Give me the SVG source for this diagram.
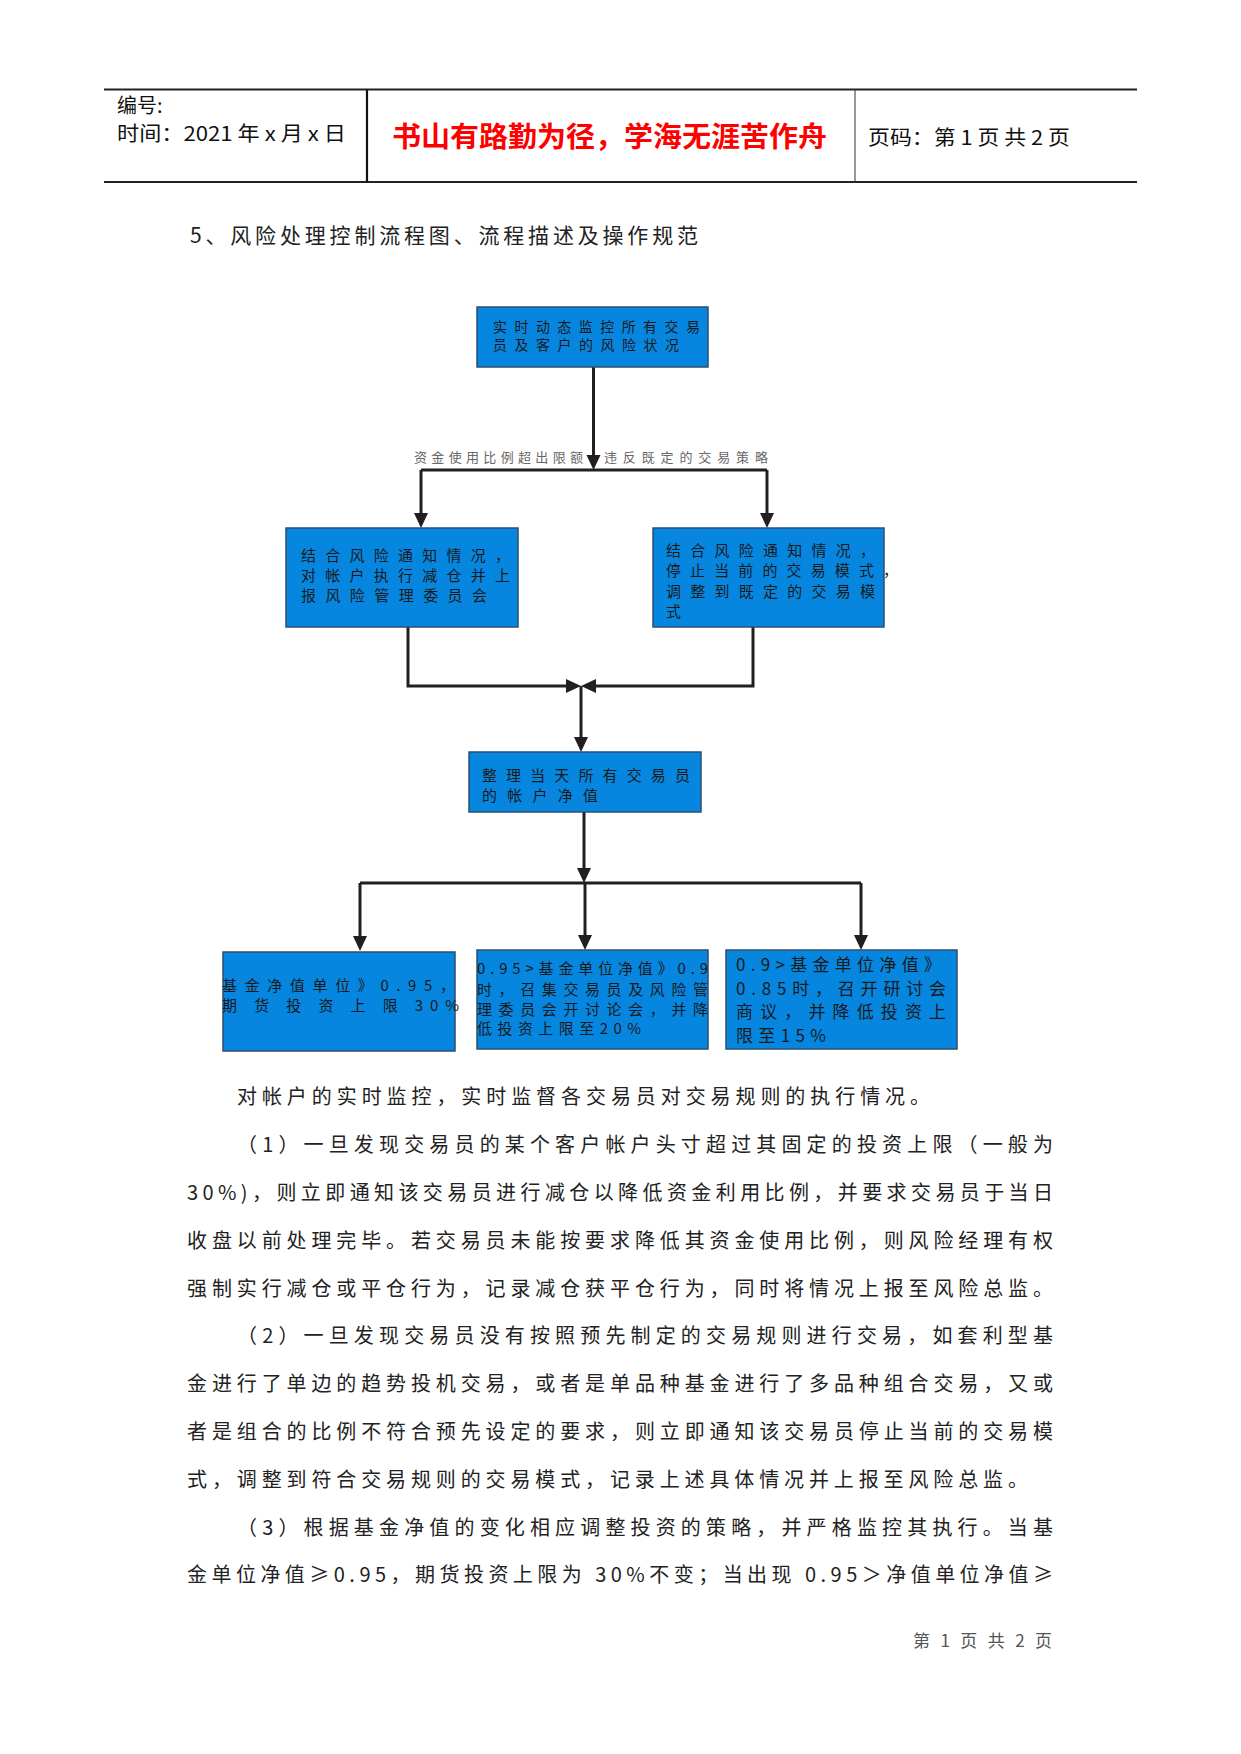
<svg xmlns="http://www.w3.org/2000/svg" width="1241" height="1754" viewBox="0 0 1241 1754">
<style>
text{font-family:"Noto Sans CJK SC","Liberation Sans",sans-serif;}
.hd{font-size:20px;fill:#111;}
.motto{font-size:28px;font-weight:bold;fill:#ff0000;}
.title{font-size:21px;fill:#222;}
.box{fill:#0786df;stroke:#2b4f70;stroke-width:1.5;}
.bt{font-size:15px;fill:#1a1a1a;}
.bt14{font-size:14px;fill:#1a1a1a;}
.bt17{font-size:17px;fill:#1a1a1a;}
.lbl{font-size:13px;fill:#666;}
.conn{fill:none;stroke:#231f20;stroke-width:3;}
.para{font-size:20px;fill:#222;}
.foot{font-size:17px;fill:#555;}
</style>
<defs>
<marker id="arr" markerUnits="userSpaceOnUse" markerWidth="16" markerHeight="16" viewBox="0 0 16 16" refX="11" refY="7" orient="auto">
<path d="M0,0 L15,7 L0,14 Z" fill="#231f20"/>
</marker>
</defs>
<rect x="0" y="0" width="1241" height="1754" fill="#ffffff"/>

<g id="header">
<line x1="104" y1="89.5" x2="1137" y2="89.5" stroke="#222" stroke-width="1.8"/>
<line x1="104" y1="182" x2="1137" y2="182" stroke="#222" stroke-width="1.8"/>
<line x1="367" y1="89.5" x2="367" y2="182" stroke="#111" stroke-width="2.2"/>
<line x1="855" y1="89.5" x2="855" y2="182" stroke="#333" stroke-width="1"/>
<text class="hd" x="117" y="113">编号:</text>
<text class="hd" x="117" y="140.5" textLength="229" lengthAdjust="spacingAndGlyphs">时间：2021 年 x 月 x 日</text>
<text class="motto" x="392" y="147" textLength="435" lengthAdjust="spacingAndGlyphs">书山有路勤为径，学海无涯苦作舟</text>
<text class="hd" x="868" y="144.5" textLength="202" lengthAdjust="spacingAndGlyphs">页码：第 1 页  共 2 页</text>
</g>

<text class="title" x="190" y="243" textLength="508" lengthAdjust="spacing">5、风险处理控制流程图、流程描述及操作规范</text>

<g id="connectors">
<path class="conn" d="M593.5,367 V466" marker-end="url(#arr)"/>
<path class="conn" d="M421,470 H767"/>
<path class="conn" d="M421,470 V524" marker-end="url(#arr)"/>
<path class="conn" d="M767,470 V524" marker-end="url(#arr)"/>
<path class="conn" d="M408,627 V686 H577" marker-end="url(#arr)"/>
<path class="conn" d="M753,627 V686 H585" marker-end="url(#arr)"/>
<path class="conn" d="M581,686 V748" marker-end="url(#arr)"/>
<path class="conn" d="M584,812 V879" marker-end="url(#arr)"/>
<path class="conn" d="M360,883 H861"/>
<path class="conn" d="M360,883 V947" marker-end="url(#arr)"/>
<path class="conn" d="M585,883 V946" marker-end="url(#arr)"/>
<path class="conn" d="M861,883 V946" marker-end="url(#arr)"/>
<text class="lbl" x="414" y="462" textLength="169" lengthAdjust="spacing">资金使用比例超出限额</text>
<text class="lbl" x="604" y="462" textLength="164" lengthAdjust="spacing">违反既定的交易策略</text>
</g>

<g id="n_monitor">
<rect class="box" x="477" y="307" width="231" height="60"/>
<text class="bt14" x="493" y="331.5" textLength="207" lengthAdjust="spacing">实时动态监控所有交易</text>
<text class="bt14" x="493" y="349.5" textLength="186" lengthAdjust="spacing">员及客户的风险状况</text>
</g>

<g id="n_reduce">
<rect class="box" x="286" y="528" width="232" height="99"/>
<text class="bt" x="301" y="560.5" textLength="209" lengthAdjust="spacing">结合风险通知情况，</text>
<text class="bt" x="301" y="580.5" textLength="209" lengthAdjust="spacing">对帐户执行减仓并上</text>
<text class="bt" x="301" y="600.5" textLength="186" lengthAdjust="spacing">报风险管理委员会</text>
</g>

<g id="n_stop">
<rect class="box" x="653" y="528" width="231" height="99"/>
<text class="bt" x="666" y="555.5" textLength="209" lengthAdjust="spacing">结合风险通知情况，</text>
<text class="bt" x="666" y="576" textLength="232" lengthAdjust="spacing">停止当前的交易模式，</text>
<text class="bt" x="666" y="596.5" textLength="209" lengthAdjust="spacing">调整到既定的交易模</text>
<text class="bt" x="666" y="617">式</text>
</g>

<g id="n_netvalue">
<rect class="box" x="469" y="752" width="232" height="60"/>
<text class="bt" x="482" y="780.5" textLength="208" lengthAdjust="spacing">整理当天所有交易员</text>
<text class="bt" x="482" y="800.5" textLength="116" lengthAdjust="spacing">的帐户净值</text>
</g>

<g id="n_095">
<rect class="box" x="223" y="952" width="232" height="99"/>
<text class="bt" x="222" y="990.5" textLength="233" lengthAdjust="spacing">基金净值单位》0.95，</text>
<text class="bt" x="222" y="1010.5" textLength="237" lengthAdjust="spacing">期 货 投 资 上 限 30%</text>
</g>

<g id="n_09">
<rect class="box" x="477" y="950" width="231" height="99"/>
<text class="bt" x="477" y="973.5" textLength="231" lengthAdjust="spacing">0.95&gt;基金单位净值》0.9</text>
<text class="bt" x="477" y="994.5" textLength="231" lengthAdjust="spacing">时，召集交易员及风险管</text>
<text class="bt" x="477" y="1014.5" textLength="231" lengthAdjust="spacing">理委员会开讨论会，并降</text>
<text class="bt" x="477" y="1034" textLength="164" lengthAdjust="spacing">低投资上限至20%</text>
</g>

<g id="n_085">
<rect class="box" x="726" y="950" width="231" height="99"/>
<text class="bt17" x="736" y="971" textLength="205" lengthAdjust="spacing">0.9&gt;基金单位净值》</text>
<text class="bt17" x="736" y="994.5" textLength="210" lengthAdjust="spacing">0.85时，召开研讨会</text>
<text class="bt17" x="736" y="1018" textLength="210" lengthAdjust="spacing">商议，并降低投资上</text>
<text class="bt17" x="736" y="1041.5" textLength="90" lengthAdjust="spacing">限至15%</text>
</g>

<g id="body">
<text class="para" x="237" y="1104" textLength="693" lengthAdjust="spacing">对帐户的实时监控，实时监督各交易员对交易规则的执行情况。</text>
<text class="para" x="237" y="1152" textLength="816" lengthAdjust="spacing">（1）一旦发现交易员的某个客户帐户头寸超过其固定的投资上限（一般为</text>
<text class="para" x="187" y="1200" textLength="866" lengthAdjust="spacing">30%)，则立即通知该交易员进行减仓以降低资金利用比例，并要求交易员于当日</text>
<text class="para" x="187" y="1247.5" textLength="866" lengthAdjust="spacing">收盘以前处理完毕。若交易员未能按要求降低其资金使用比例，则风险经理有权</text>
<text class="para" x="187" y="1295.5" textLength="866" lengthAdjust="spacing">强制实行减仓或平仓行为，记录减仓获平仓行为，同时将情况上报至风险总监。</text>
<text class="para" x="237" y="1343" textLength="816" lengthAdjust="spacing">（2）一旦发现交易员没有按照预先制定的交易规则进行交易，如套利型基</text>
<text class="para" x="187" y="1391" textLength="866" lengthAdjust="spacing">金进行了单边的趋势投机交易，或者是单品种基金进行了多品种组合交易，又或</text>
<text class="para" x="187" y="1439" textLength="866" lengthAdjust="spacing">者是组合的比例不符合预先设定的要求，则立即通知该交易员停止当前的交易模</text>
<text class="para" x="187" y="1486.5" textLength="841" lengthAdjust="spacing">式，调整到符合交易规则的交易模式，记录上述具体情况并上报至风险总监。</text>
<text class="para" x="237" y="1534.5" textLength="816" lengthAdjust="spacing">（3）根据基金净值的变化相应调整投资的策略，并严格监控其执行。当基</text>
<text class="para" x="187" y="1582" textLength="866" lengthAdjust="spacing">金单位净值≥0.95，期货投资上限为 30%不变；当出现 0.95＞净值单位净值≥</text>
</g>

<text class="foot" x="913" y="1647" textLength="139" lengthAdjust="spacing">第 1 页 共 2 页</text>
</svg>
